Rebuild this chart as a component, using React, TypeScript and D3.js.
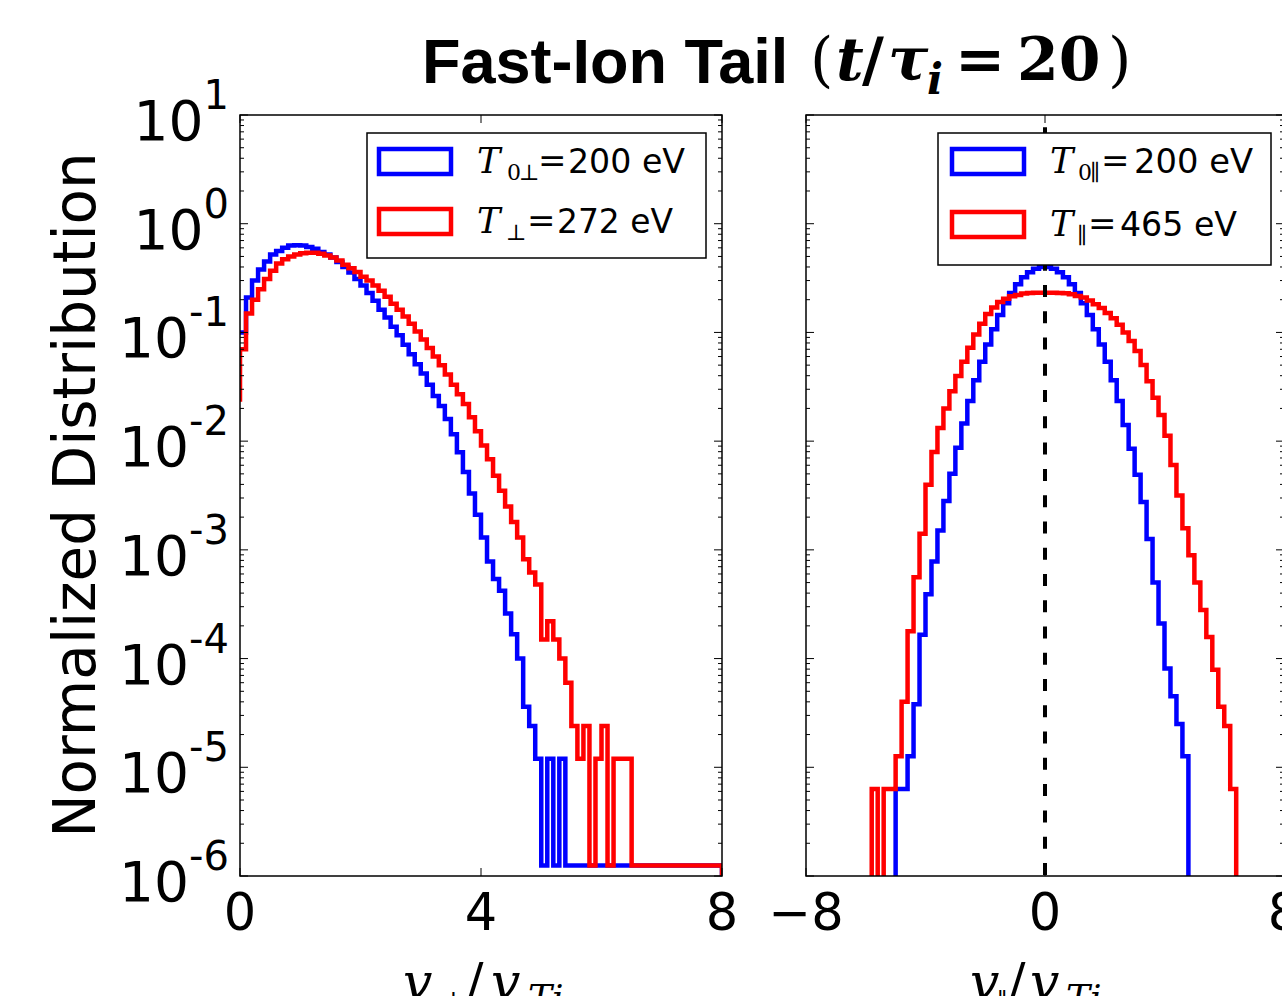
import React from 'react';
import * as d3 from 'd3';

const W = 1282;
const H = 996;

// ---------- data ----------
// Left panel: histogram of v_perp / v_Ti, bins of width 0.1 starting at 0
const PERP_BIN_START = 0;
const PERP_BIN_WIDTH = 0.1;
const perpBlueEdge = 0.1;
const perpRedEdge = 0.023;
const perpBlue = [
  0.10, 0.21, 0.30, 0.38, 0.45, 0.52, 0.56, 0.60, 0.63, 0.635,
  0.63, 0.61, 0.59, 0.55, 0.52, 0.49, 0.445, 0.40, 0.355, 0.31,
  0.27, 0.23, 0.196, 0.162, 0.137, 0.113, 0.094, 0.077, 0.063, 0.051,
  0.042, 0.033, 0.026, 0.021, 0.016, 0.0116, 0.0079, 0.0052, 0.0033, 0.0021,
  0.0013, 0.00078, 0.00054, 0.00042, 0.00026, 0.000167, 0.0001, 3.6e-5, 2.4e-5, 1.2e-5,
  1.25e-6, 1.2e-5, 1.25e-6, 1.2e-5, 1.25e-6, 1.25e-6, 1.25e-6, 1.25e-6, 1.25e-6, 1.25e-6,
  1.25e-6, 1.25e-6, 1.25e-6, 1.25e-6, 1.25e-6, 1.25e-6, 1.25e-6, 1.25e-6, 1.25e-6, 1.25e-6,
  1.25e-6, 1.25e-6, 1.25e-6, 1.25e-6, 1.25e-6, 1.25e-6, 1.25e-6, 1.25e-6, 1.25e-6, 1.25e-6,
];
const perpRed = [
  0.07, 0.149, 0.20, 0.25, 0.31, 0.37, 0.43, 0.47, 0.50, 0.52,
  0.535, 0.54, 0.54, 0.53, 0.51, 0.49, 0.46, 0.42, 0.39, 0.36,
  0.325, 0.30, 0.27, 0.242, 0.213, 0.184, 0.162, 0.14, 0.12, 0.102,
  0.086, 0.072, 0.060, 0.050, 0.041, 0.033, 0.027, 0.022, 0.0166, 0.0123,
  0.0091, 0.0068, 0.0048, 0.0035, 0.0025, 0.0018, 0.0013, 0.00082, 0.00062, 0.00048,
  1.5e-4, 2.2e-4, 1.5e-4, 1.0e-4, 6.0e-5, 2.4e-5, 1.2e-5, 2.4e-5, 1.25e-6, 1.2e-5,
  2.4e-5, 1.25e-6, 1.2e-5, 1.2e-5, 1.2e-5, 1.25e-6, 1.25e-6, 1.25e-6, 1.25e-6, 1.25e-6,
  1.25e-6, 1.25e-6, 1.25e-6, 1.25e-6, 1.25e-6, 1.25e-6, 1.25e-6, 1.25e-6, 1.25e-6, 1.25e-6,
];

// Right panel: histogram of v_par / v_Ti, bins of width 0.2 starting at -6.0
const PAR_BIN_START = -6.0;
const PAR_BIN_WIDTH = 0.2;
const parBlue = [
  0, 0, 0, 0, 0, 6.3e-6, 6.3e-6, 1.26e-5, 3.8e-5, 1.66e-4,
  3.9e-4, 7.8e-4, 1.51e-3, 2.82e-3, 5.0e-3, 8.7e-3, 0.0145, 0.0234, 0.0363, 0.0537,
  0.0776, 0.107, 0.145, 0.186, 0.231, 0.278, 0.321, 0.358, 0.385, 0.400,
  0.400, 0.385, 0.358, 0.321, 0.278, 0.231, 0.186, 0.145, 0.107, 0.0776,
  0.0537, 0.0363, 0.0234, 0.0141, 0.0085, 0.0049, 0.00275, 0.00126, 0.0005, 0.00021,
  8.1e-5, 4.5e-5, 2.5e-5, 1.26e-5, 0, 0, 0, 0, 0, 0,
  0, 0, 0, 0,
];
const parRed = [
  0, 6.3e-6, 0, 6.3e-6, 6.3e-6, 1.26e-5, 4.0e-5, 1.78e-4, 5.6e-4, 1.41e-3,
  3.98e-3, 7.94e-3, 0.0132, 0.0200, 0.0288, 0.0398, 0.0537, 0.0724, 0.0955, 0.120,
  0.148, 0.170, 0.191, 0.204, 0.215, 0.221, 0.228, 0.231, 0.232, 0.232,
  0.232, 0.232, 0.231, 0.229, 0.224, 0.216, 0.209, 0.197, 0.182, 0.168,
  0.151, 0.135, 0.1175, 0.100, 0.0832, 0.0676, 0.0501, 0.0355, 0.0251, 0.0174,
  0.0112, 0.00603, 0.00316, 0.00158, 0.00089, 0.0005, 0.00028, 0.000158, 7.9e-5, 3.6e-5,
  2.4e-5, 6.3e-6, 0, 0,
];

const Y_EXPONENTS = [1, 0, -1, -2, -3, -4, -5, -6];
const PERP_X_TICKS = [0, 4, 8];
const PAR_X_TICKS = [-8, 0, 8];
const PERP_LEGEND = [
  { color: '#0000ff', subs: ['0', '⊥'], value: '200 eV' },
  { color: '#ff0000', subs: ['⊥'], value: '272 eV' },
];
const PAR_LEGEND = [
  { color: '#0000ff', subs: ['0', '∥'], value: '200 eV' },
  { color: '#ff0000', subs: ['∥'], value: '465 eV' },
];
const TITLE = 'Fast-Ion Tail';
const Y_LABEL = 'Normalized Distribution';

// ---------- layout ----------
const TOP = 115;
const BOTTOM = 876;
const L_X0 = 240, L_X1 = 722;
const R_X0 = 806, R_X1 = 1284;
const BLUE = '#0000ff';
const RED = '#ff0000';
const SANS = 'DejaVu Sans';
const SERIF = 'DejaVu Serif';
const LW = 4.5;

const yScale = d3.scaleLog().domain([1e-6, 10]).range([BOTTOM, TOP]);
const xPerp = d3.scaleLinear().domain([0, 8]).range([L_X0, L_X1]);
const xPar = d3.scaleLinear().domain([-8, 8]).range([R_X0, R_X1]);

function stepPoints(vals: number[], start: number, width: number, edge?: number) {
  const pts: [number, number][] = [];
  const safe = (v: number) => (v > 0 ? v : 1e-9);
  pts.push([start, edge !== undefined ? edge : 1e-9]);
  vals.forEach((v, i) => {
    pts.push([start + i * width, safe(v)]);
    pts.push([start + (i + 1) * width, safe(v)]);
  });
  pts.push([start + vals.length * width, 1e-9]);
  return pts;
}

function stepPath(pts: [number, number][], xs: d3.ScaleLinear<number, number>) {
  return d3.line<[number, number]>()
    .x((d) => xs(d[0]))
    .y((d) => yScale(d[1]))(pts) || '';
}

function YTicks({ x0, x1 }: { x0: number; x1: number }) {
  const els: React.ReactNode[] = [];
  Y_EXPONENTS.forEach((e) => {
    const y = yScale(Math.pow(10, e));
    els.push(<line key={`M${e}a`} x1={x0} x2={x0 + 8} y1={y} y2={y} stroke="#000" strokeWidth={1} />);
    els.push(<line key={`M${e}b`} x1={x1} x2={x1 - 8} y1={y} y2={y} stroke="#000" strokeWidth={1} />);
  });
  for (let e = -6; e <= 0; e++) {
    for (let m = 2; m <= 9; m++) {
      const y = yScale(m * Math.pow(10, e));
      els.push(<line key={`m${e}${m}a`} x1={x0} x2={x0 + 4} y1={y} y2={y} stroke="#000" strokeWidth={1} />);
      els.push(<line key={`m${e}${m}b`} x1={x1} x2={x1 - 4} y1={y} y2={y} stroke="#000" strokeWidth={1} />);
    }
  }
  return <g>{els}</g>;
}

function XTicks({ ticks, xs }: { ticks: number[]; xs: d3.ScaleLinear<number, number> }) {
  return (
    <g>
      {ticks.map((t) => (
        <g key={t}>
          <line x1={xs(t)} x2={xs(t)} y1={BOTTOM} y2={BOTTOM - 8} stroke="#000" strokeWidth={1} />
          <line x1={xs(t)} x2={xs(t)} y1={TOP} y2={TOP + 8} stroke="#000" strokeWidth={1} />
          <text x={xs(t)} y={930} textAnchor="middle" fontFamily={SANS} fontSize={51} fill="#000">
            {t < 0 ? `\u2212${Math.abs(t)}` : `${t}`}
          </text>
        </g>
      ))}
    </g>
  );
}

function Legend({ x, y, w, h, rows, rowYs, handleX }: any) {
  return (
    <g>
      <rect x={x} y={y} width={w} height={h} fill="#fff" stroke="#000" strokeWidth={1.5} />
      {rows.map((r: any, i: number) => {
        const by = rowYs[i];
        const p = r.pieces;
        return (
          <g key={i}>
            <rect x={handleX} y={by - 24} width={72} height={25} fill="none" stroke={r.color} strokeWidth={LW} />
            <text x={p.T} y={by} fontFamily={SERIF} fontStyle="italic" fontSize={35} fill="#000">T</text>
            {r.subs.map((s: string, k: number) => (
              <text key={k} x={p.subX[k]} y={by + 7} fontFamily={SERIF} fontSize={22} fill="#000">{s}</text>
            ))}
            <text x={p.eq} y={by - 1} fontFamily={SERIF} fontSize={34} fill="#000">=</text>
            <text x={p.val} y={by} fontFamily={SANS} fontSize={33} fill="#000" textLength={p.valLen} lengthAdjust="spacingAndGlyphs">{r.value}</text>
          </g>
        );
      })}
    </g>
  );
}

export default function App() {
  const perpBluePath = stepPath(stepPoints(perpBlue, PERP_BIN_START, PERP_BIN_WIDTH, perpBlueEdge), xPerp);
  const perpRedPath = stepPath(stepPoints(perpRed, PERP_BIN_START, PERP_BIN_WIDTH, perpRedEdge), xPerp);
  const parBluePath = stepPath(stepPoints(parBlue, PAR_BIN_START, PAR_BIN_WIDTH), xPar);
  const parRedPath = stepPath(stepPoints(parRed, PAR_BIN_START, PAR_BIN_WIDTH), xPar);

  const perpRows = [
    { ...PERP_LEGEND[0], pieces: { T: 477, subX: [507, 519], eq: 538, val: 568, valLen: 117 } },
    { ...PERP_LEGEND[1], pieces: { T: 477, subX: [506], eq: 527, val: 557, valLen: 116 } },
  ];
  const parRows = [
    { ...PAR_LEGEND[0], pieces: { T: 1050, subX: [1078, 1090], eq: 1101, val: 1134, valLen: 119 } },
    { ...PAR_LEGEND[1], pieces: { T: 1050, subX: [1077], eq: 1088, val: 1120, valLen: 117 } },
  ];

  return (
    <svg width={W} height={H} style={{ position: 'absolute', left: 0, top: 0, background: '#fff' }}>
      <defs>
        <clipPath id="clipL"><rect x={L_X0} y={TOP} width={L_X1 - L_X0} height={BOTTOM - TOP} /></clipPath>
        <clipPath id="clipR"><rect x={R_X0} y={TOP} width={R_X1 - R_X0} height={BOTTOM - TOP} /></clipPath>
      </defs>
      <rect x={0} y={0} width={W} height={H} fill="#fff" />

      {/* Title */}
      <text x={422} y={83} fontFamily="Liberation Sans" fontWeight="bold" fontSize={63} fill="#000">{TITLE}</text>
      <g fontFamily={SERIF} fontWeight="bold" fontSize={60} fill="#000">
        <text x={810} y={80} fontWeight="normal">(</text>
        <text x={836} y={80} fontStyle="italic">t</text>
        <text x={862} y={80}>/</text>
        <text x={888} y={80} fontStyle="italic">τ</text>
        <text x={927} y={94} fontSize={42} fontStyle="italic">i</text>
        <text x={955} y={80}>=</text>
        <text x={1017} y={80}>20</text>
        <text x={1108} y={80} fontWeight="normal">)</text>
      </g>

      {/* Y label */}
      <text transform={`translate(95,495) rotate(-90)`} textAnchor="middle" fontFamily={SANS} fontSize={58} fill="#000">{Y_LABEL}</text>

      {/* Y tick labels */}
      {Y_EXPONENTS.map((e) => (
        <text key={e} x={229} y={yScale(Math.pow(10, e)) + 25} textAnchor="end" fontFamily={SANS} fontSize={55} fill="#000">
          10<tspan fontSize={40} dy={-31}>{e < 0 ? `-${Math.abs(e)}` : `${e}`}</tspan>
        </text>
      ))}

      {/* Left panel curves */}
      <g clipPath="url(#clipL)" fill="none" strokeWidth={LW} strokeLinejoin="miter">
        <path d={perpBluePath} stroke={BLUE} />
        <path d={perpRedPath} stroke={RED} />
      </g>
      {/* Right panel curves */}
      <g clipPath="url(#clipR)" fill="none" strokeWidth={LW} strokeLinejoin="miter">
        <path d={parBluePath} stroke={BLUE} />
        <path d={parRedPath} stroke={RED} />
        <line x1={xPar(0)} x2={xPar(0)} y1={TOP} y2={BOTTOM} stroke="#000" strokeWidth={4} strokeDasharray="12 14.27" strokeDashoffset={13.9} />
      </g>

      {/* Axes frames */}
      <rect x={L_X0} y={TOP} width={L_X1 - L_X0} height={BOTTOM - TOP} fill="none" stroke="#000" strokeWidth={1.5} />
      <rect x={R_X0} y={TOP} width={R_X1 - R_X0} height={BOTTOM - TOP} fill="none" stroke="#000" strokeWidth={1.5} />
      <YTicks x0={L_X0} x1={L_X1} />
      <YTicks x0={R_X0} x1={R_X1} />
      <XTicks ticks={PERP_X_TICKS} xs={xPerp} />
      <XTicks ticks={PAR_X_TICKS} xs={xPar} />

      {/* Legends */}
      <Legend x={367} y={133} w={339} h={125} rows={perpRows} rowYs={[173, 233]} handleX={379} />
      <Legend x={938} y={133} w={333} h={132} rows={parRows} rowYs={[173, 236]} handleX={952} />

      {/* X labels */}
      <g fontFamily={SERIF} fill="#000">
        <text x={403} y={1000} fontStyle="italic" fontSize={52}>v</text>
        <text x={441} y={1010} fontSize={26}>⊥</text>
        <text x={466} y={1000} fontSize={52}>/</text>
        <text x={491} y={1000} fontStyle="italic" fontSize={52}>v</text>
        <text x={528} y={1010} fontStyle="italic" fontSize={36}>Ti</text>

        <text x={970} y={1000} fontStyle="italic" fontSize={52}>v</text>
        <text x={997} y={1010} fontSize={24}>∥</text>
        <text x={1008} y={1000} fontSize={52}>/</text>
        <text x={1030} y={1000} fontStyle="italic" fontSize={52}>v</text>
        <text x={1066} y={1010} fontStyle="italic" fontSize={36}>Ti</text>
      </g>
    </svg>
  );
}
